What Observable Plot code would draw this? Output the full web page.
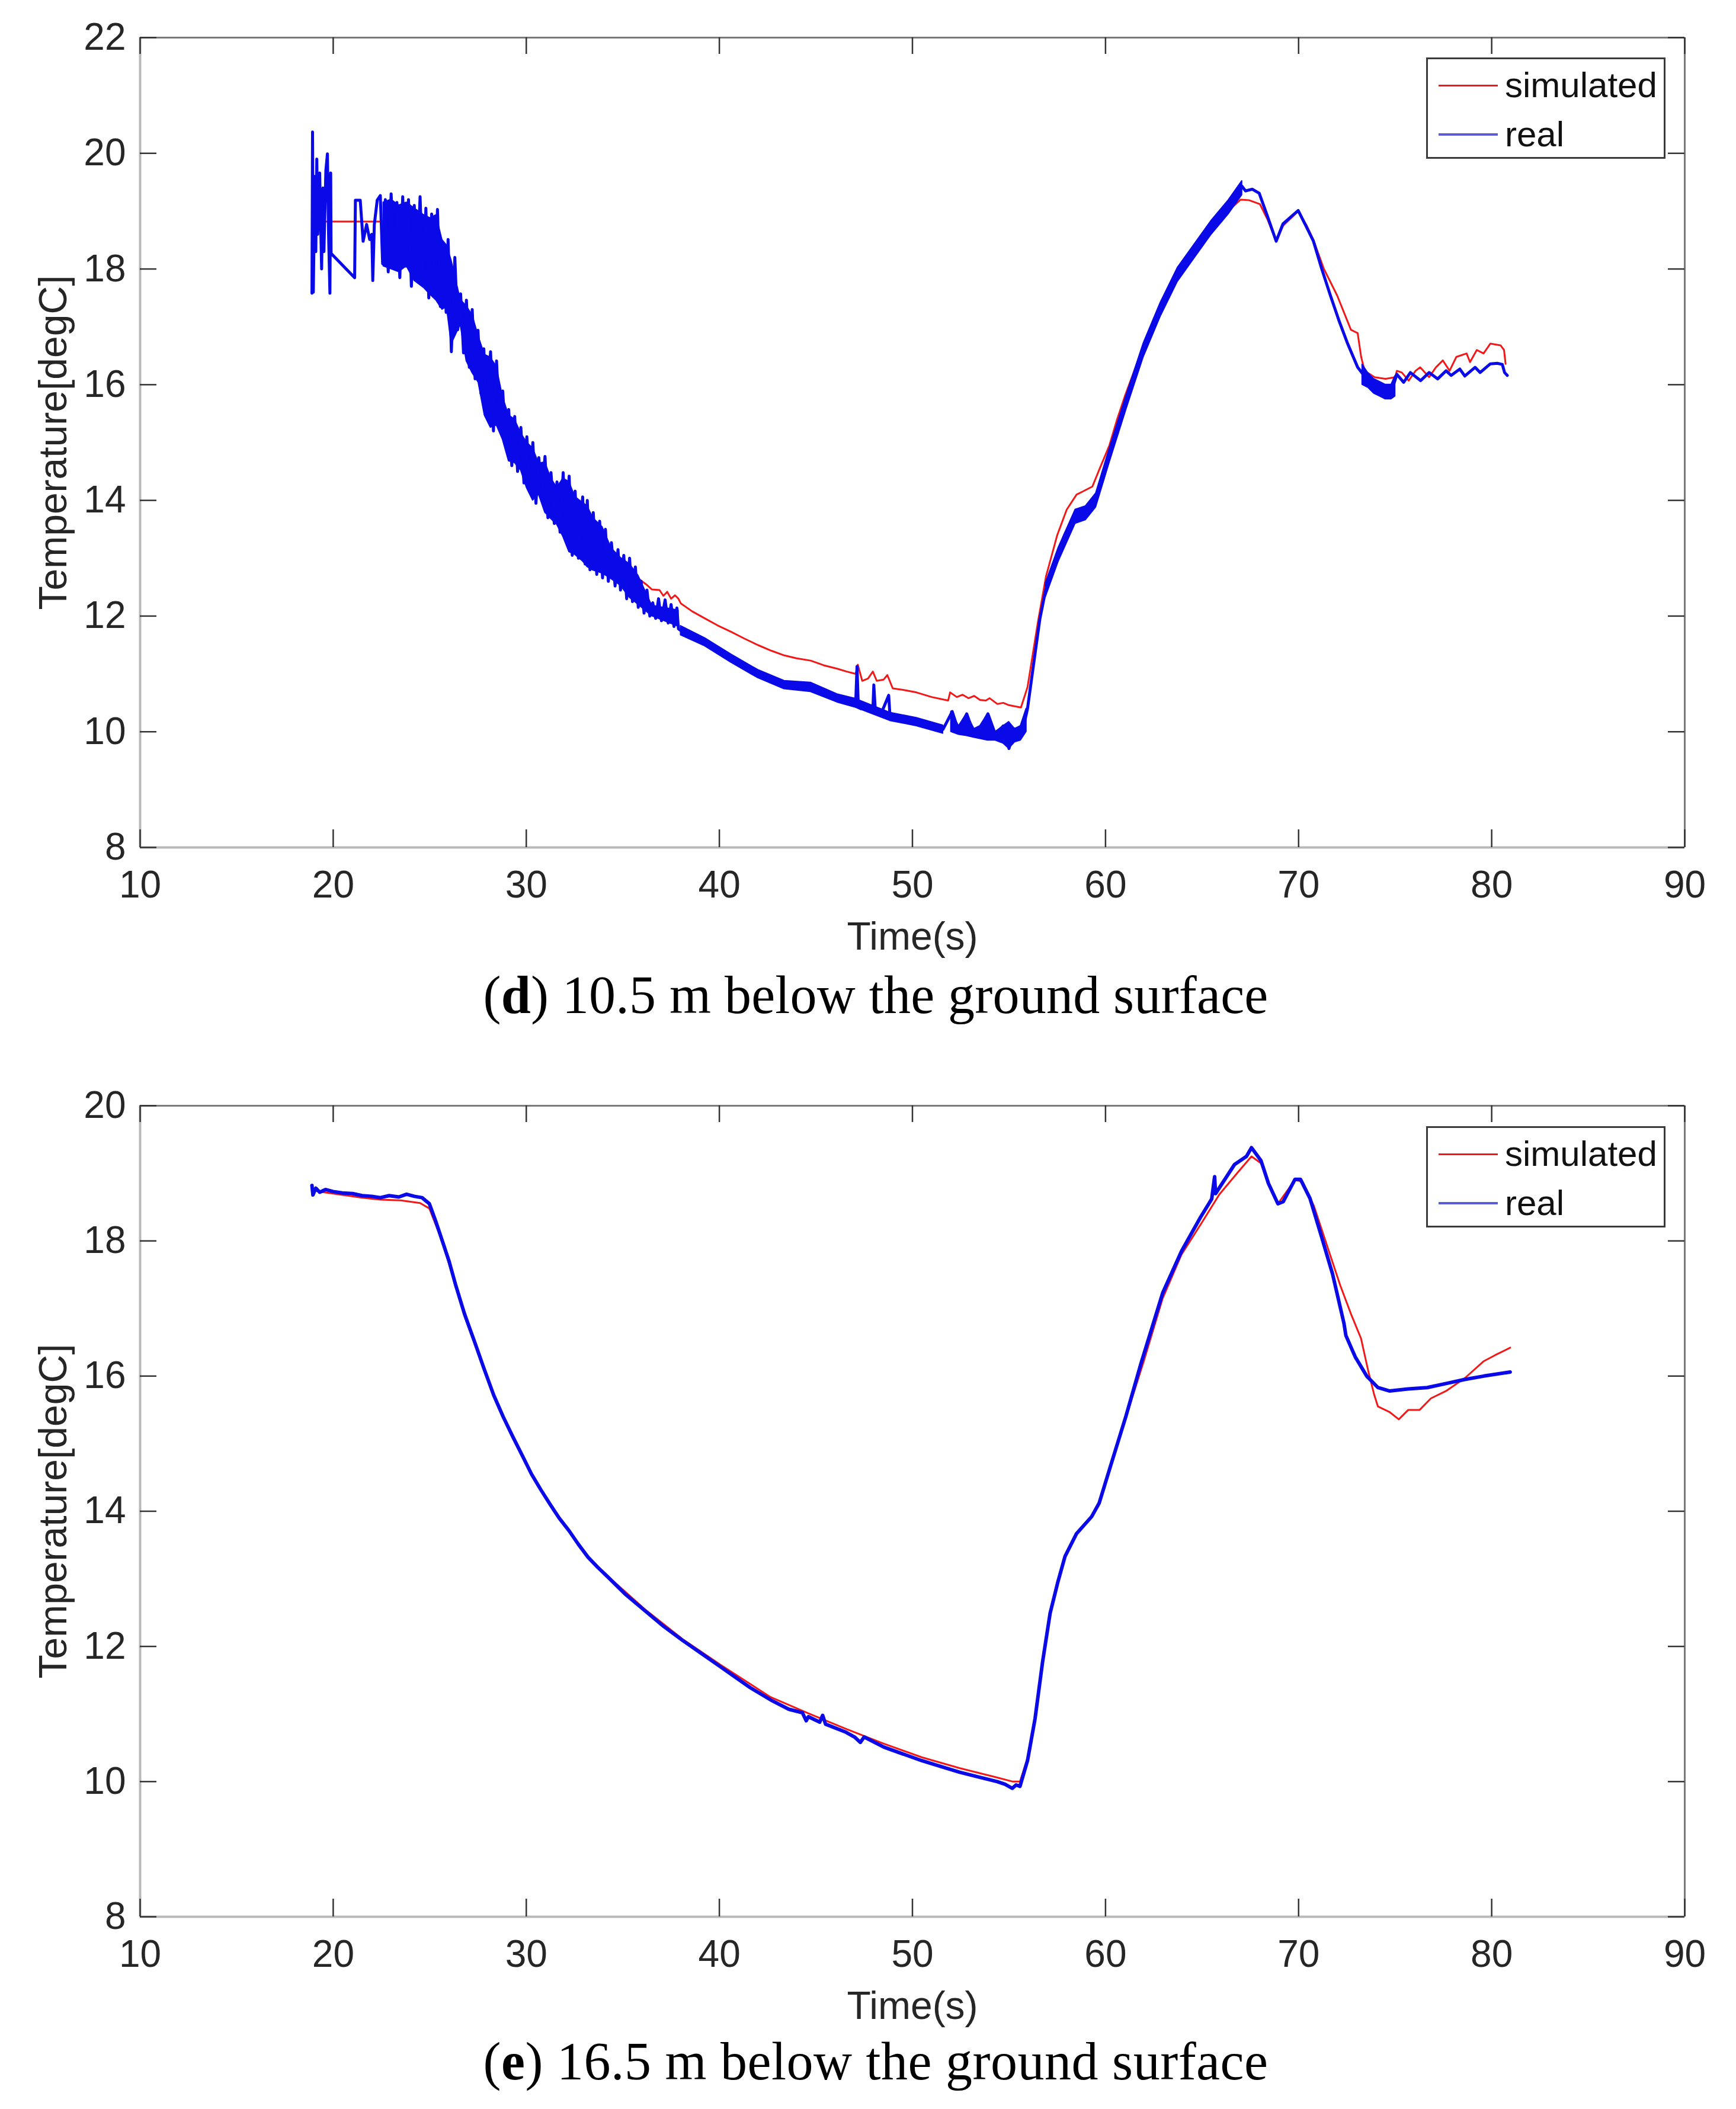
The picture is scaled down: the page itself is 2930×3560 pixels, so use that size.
<!DOCTYPE html>
<html>
<head>
<meta charset="utf-8">
<script src="https://cdn.jsdelivr.net/npm/d3@7"></script>
<script src="https://cdn.jsdelivr.net/npm/@observablehq/plot@0.6"></script>
<style>
  html, body { margin: 0; padding: 0; background: #fff; }
  #wrap { position: relative; width: 2930px; height: 3560px; background: #fff; overflow: hidden; }
  .panel { position: absolute; left: 0; }
  .cap { position: absolute; left: 13px; width: 2930px; text-align: center; white-space: nowrap;
         font-family: "Liberation Serif", "Times New Roman", serif; font-size: 90px; line-height: 90px; color: #000; }
  .cap span { display: inline-block; }
  .legend { position: absolute; left: 2407px; width: 398px; height: 165px; border: 3px solid #3a3a3a; background: #fff;
            font-family: "Liberation Sans", Arial, sans-serif; font-size: 60px; color: #111; }
  .legend .row { position: absolute; left: 0; height: 0; }
  .legend .sw { position: absolute; left: 18px; width: 100px; }
  .legend .lab { position: absolute; left: 130px; top: -36px; line-height: 72px; }
</style>
</head>
<body>
<div id="wrap">
  <div id="p1" class="panel" style="top:0px"></div>
  <div id="cap1" class="cap" style="top:1635px"><span>(<b>d</b>) 10.5 m below the ground surface</span></div>
  <div id="p2" class="panel" style="top:1803px"></div>
  <div id="cap2" class="cap" style="top:3435px"><span>(<b>e</b>) 16.5 m below the ground surface</span></div>
</div>
<script>
// ---------- axes ----------
const xDomain = [10, 90];
const xTicks = [10, 20, 30, 40, 50, 60, 70, 80, 90];
const y1Domain = [8, 22];
const y1Ticks = [8, 10, 12, 14, 16, 18, 20, 22];
const y2Domain = [8, 20];
const y2Ticks = [8, 10, 12, 14, 16, 18, 20];
const seriesNames = ["simulated", "real"];
const xLabel = "Time(s)";
const yLabel = "Temperature[degC]";

// ---------- panel (d): 10.5 m ----------
const sim1T = [19.00,22.67,23.5,24.5,25.5,26.5,27.5,28.5,29.5,30.5,31.5,32.5,33.5,34.5,35.2,35.6,35.8,36.2,36.51,36.9,37.1,37.3,37.5,37.7,37.88,38.0,38.6,39.25,39.9,40.6,41.3,41.99,42.7,43.36,44.0,44.73,45.4,46.1,46.6,47.06,47.17,47.4,47.7,47.95,48.15,48.5,48.7,48.98,49.6,50.21,51.0,51.85,51.95,52.3,52.6,52.9,53.2,53.5,53.8,54.0,54.4,54.7,55.0,55.3,55.62,55.96,56.5,56.92,57.5,57.99,58.5,58.8,59.32,59.7,60.2,60.6,61.0,61.5,62.0,62.5,63.0,63.5,64.0,64.5,65.0,65.5,66.0,66.5,67.0,67.43,68.0,68.4,68.84,69.2,69.98,70.42,70.77,71.3,72.0,72.71,73.06,73.24,73.42,73.94,74.5,75.0,75.09,75.35,75.7,76.06,76.3,76.76,77.11,77.47,77.82,78.17,78.7,78.88,79.23,79.58,79.93,80.46,80.64,80.72];
const sim1V = [18.82,18.82,18.75,18.45,18.0,17.3,16.5,15.7,15.0,14.45,14.0,13.6,13.25,12.95,12.8,12.78,12.65,12.55,12.46,12.45,12.35,12.42,12.30,12.36,12.30,12.22,12.08,11.96,11.84,11.73,11.61,11.50,11.40,11.32,11.27,11.23,11.15,11.09,11.04,11.00,11.16,10.88,10.92,11.04,10.88,10.90,10.98,10.75,10.72,10.68,10.60,10.54,10.68,10.60,10.64,10.58,10.62,10.55,10.54,10.58,10.48,10.50,10.46,10.44,10.42,10.77,11.90,12.69,13.40,13.84,14.10,14.15,14.24,14.55,14.95,15.40,15.80,16.25,16.70,17.05,17.40,17.75,18.05,18.28,18.50,18.70,18.90,19.05,19.20,19.19,19.12,18.85,18.48,18.75,19.00,18.75,18.50,18.01,17.54,16.95,16.89,16.48,16.24,16.13,16.10,16.13,16.24,16.21,16.07,16.24,16.30,16.13,16.30,16.42,16.24,16.48,16.54,16.39,16.60,16.54,16.71,16.68,16.60,16.36];

const real1T = [18.90,18.93,18.97,19.05,19.10,19.15,19.20,19.30,19.40,19.47,19.52,19.62,19.70,19.76,19.83,19.87,19.89,21.11,21.15,21.40,21.55,21.73,21.89,22.00,22.05,22.13,22.28,22.44,22.56,
 22.70,22.85,23.00,23.15,23.30,23.45,23.60,23.75,23.90,24.05,24.20,24.35,24.50,24.65,24.80,24.95,25.10,25.25,25.40,25.55,25.70,25.85,25.95,26.12,26.30,26.45,26.60,26.75,26.90,27.05,27.20,27.35,27.50,27.65,27.80,27.95,28.15,28.30,28.46,28.62,28.78,28.95,29.09,29.25,29.40,29.55,29.72,29.88,30.03,30.20,30.34,30.50,30.65,30.80,30.97,31.12,31.28,31.45,31.59,31.75,31.91,32.05,32.22,32.38,32.53,32.70,32.92,33.05,33.16,33.30,33.47,33.65,33.80,33.95,34.10,34.25,34.41,34.60,34.75,34.88,35.05,35.20,35.35,35.50,35.65,35.80,35.95,36.10,36.25,36.40,36.55,36.70,36.85,37.00,37.19,37.35,37.50,37.65,37.80,37.88,
 38.00,38.6,39.25,39.9,40.6,41.3,42.0,42.7,43.36,44.0,44.73,45.4,46.10,46.6,47.06,47.13,47.20,47.33,47.7,47.95,48.00,48.08,48.4,48.77,48.84,49.5,50.21,50.9,51.58,52.06,52.4,52.81,53.2,53.5,53.91,54.3,54.7,55.0,55.3,55.69,55.96,56.33,56.6,56.9,57.2,57.56,57.88,58.2,58.44,58.7,58.97,59.2,59.5,59.85,60.2,60.6,61.09,61.5,61.97,62.4,62.85,63.3,63.73,64.2,64.61,65.05,65.49,65.9,66.37,66.75,67.07,67.25,67.6,67.96,68.4,68.84,69.19,69.6,69.98,70.42,70.77,71.2,71.65,72.1,72.54,73.06,73.59,74.3,74.82,75.09,75.44,75.79,76.32,76.76,77.20,77.64,77.90,78.35,78.61,79.14,79.40,79.93,80.29,80.55,80.67,80.81];
const real1V = [17.58,20.37,17.60,19.60,18.30,19.90,18.60,19.66,18.00,19.40,18.30,19.70,19.99,18.60,17.58,19.66,18.27,17.85,19.19,19.19,18.48,18.77,18.51,18.60,17.80,18.77,19.19,19.27,18.09,
 19.20,17.95,19.30,18.10,19.15,17.85,19.25,18.05,19.20,17.70,19.10,18.00,19.25,17.80,19.05,17.50,18.95,17.55,19.03,17.35,18.40,17.25,18.51,16.57,18.20,16.95,17.57,16.55,17.46,16.30,17.30,16.10,16.94,15.85,16.62,15.45,16.57,15.20,16.41,15.25,15.89,14.95,15.57,14.60,15.45,14.50,15.26,14.30,15.10,14.15,15.00,13.95,14.74,14.05,14.76,13.70,14.48,13.60,14.32,13.45,14.48,13.30,14.42,13.05,14.16,13.00,14.06,12.90,14.00,12.80,13.79,12.72,13.64,12.66,13.50,12.60,13.27,12.52,13.15,12.45,13.05,12.30,13.00,12.25,12.85,12.15,12.60,12.05,12.45,12.00,12.23,11.96,12.30,11.92,12.28,11.88,12.20,11.82,12.14,11.78,
 11.75,11.66,11.55,11.42,11.27,11.13,11.00,10.90,10.81,10.79,10.77,10.66,10.58,10.53,10.49,11.13,10.42,10.40,10.44,10.38,10.81,10.36,10.33,10.63,10.26,10.22,10.17,10.10,10.04,10.35,10.00,10.31,9.95,10.05,10.31,9.95,10.10,9.71,10.05,9.99,10.40,11.30,11.95,12.45,12.75,13.06,13.40,13.60,13.71,13.80,13.77,13.85,14.00,14.35,14.77,15.25,15.71,16.15,16.60,16.95,17.30,17.62,17.90,18.12,18.31,18.52,18.72,18.88,19.07,19.25,19.43,19.35,19.38,19.31,18.90,18.48,18.78,18.90,19.01,18.72,18.48,18.00,17.54,17.10,16.71,16.30,16.07,15.95,15.89,16.18,16.04,16.21,16.07,16.21,16.10,16.24,16.16,16.27,16.15,16.30,16.21,16.36,16.37,16.35,16.21,16.16];

// dense core of the noisy real series (panel d), by segment
const band1Seg = ["a","a","a","a","a","a","a","a","a","a","a","a","a","a","a","a","a","a","a","a","a","a","a","a","a","a","a","a","a","a","a","a","a","a","a","a","a","a","a","a","a",
                  "d","d","d","d","d","d","d","d","d","d","d",
                  "b","b","b","b","b","b","b","b","b","b","b","b",
                  "e","e","e","e","e","e","e","e","e","e","e","e","e","e",
                  "c","c","c","c","c","c","c"];
const band1T  = [22.60,23.00,23.40,23.80,24.20,24.71,25.02,25.33,25.65,25.88,26.12,26.59,26.90,27.21,27.52,27.84,28.15,28.46,28.78,29.09,29.40,29.72,30.03,30.34,30.65,30.97,31.28,31.59,31.91,32.22,32.53,32.92,33.16,33.47,33.94,34.41,34.88,35.35,35.80,36.51,37.88,
                 38.0,39.25,40.6,42.0,43.36,44.73,46.1,47.06,48.84,50.21,51.58,
                 52.0,52.4,52.8,53.2,53.5,53.9,54.3,54.7,55.0,55.3,55.6,55.9,
                 56.9,57.56,58.44,58.97,59.5,60.2,61.09,61.97,62.85,63.73,64.61,65.49,66.37,67.07,
                 73.3,73.6,73.9,74.2,74.5,74.8,75.0];
const band1Lo = [18.05,18.00,17.95,18.05,17.80,17.67,17.56,17.46,17.30,17.35,16.70,17.04,16.41,16.20,16.04,15.47,15.26,15.30,15.05,14.68,14.65,14.52,14.21,14.00,14.10,13.79,13.68,13.58,13.37,13.11,13.06,12.95,12.85,12.79,12.74,12.64,12.53,12.32,12.20,12.00,11.82,
                 11.67,11.48,11.20,10.93,10.74,10.69,10.51,10.42,10.19,10.10,9.97,
                 10.00,9.95,9.93,9.90,9.88,9.85,9.85,9.80,9.71,9.82,9.85,10.00,
                 12.33,12.94,13.60,13.66,13.88,14.65,15.59,16.48,17.18,17.78,18.19,18.60,18.95,19.28,
                 16.00,15.95,15.85,15.80,15.75,15.75,15.80];
const band1Hi = [19.15,19.20,19.10,19.15,19.05,18.93,18.88,18.93,18.50,18.41,18.15,17.47,17.36,17.20,16.84,16.52,16.47,16.31,15.79,15.47,15.40,15.16,15.00,14.90,14.64,14.66,14.38,14.22,14.38,14.32,14.06,13.96,13.90,13.69,13.54,13.17,13.01,12.90,12.70,12.18,12.10,
                 11.83,11.62,11.34,11.07,10.88,10.85,10.65,10.57,10.33,10.24,10.11,
                 10.35,10.10,10.31,10.05,10.10,10.31,10.00,10.10,10.17,10.05,10.10,10.40,
                 12.57,13.18,13.84,13.90,14.12,14.89,15.83,16.72,17.42,18.02,18.43,18.84,19.19,19.52,
                 16.35,16.20,16.10,16.05,16.00,16.00,16.15];

// ---------- panel (e): 16.5 m ----------
const sim2T = [18.91,19.5,20.48,21.5,22.44,23.5,24.5,24.98,25.57,26.35,27.33,28.31,29.29,30.27,31.24,32.22,33.2,34.18,36.14,38.09,40.05,42.65,44.61,46.56,48.52,50.48,52.43,54.39,55.2,55.57,55.96,56.35,56.74,57.13,57.52,57.9,58.5,59.28,59.67,60.26,61.05,61.98,62.96,63.94,64.92,65.9,66.87,67.56,68.05,68.44,68.93,69.81,70.2,70.79,71.37,72.16,72.74,73.23,73.62,73.92,74.11,74.7,75.19,75.68,76.27,76.85,77.64,78.61,79.59,80.18,80.96];
const sim2V = [18.75,18.72,18.68,18.64,18.61,18.60,18.56,18.48,18.05,17.34,16.50,15.72,15.11,14.55,14.10,13.71,13.33,13.05,12.55,12.11,11.73,11.25,11.01,10.78,10.56,10.36,10.20,10.06,10.00,10.00,10.35,10.95,11.78,12.50,12.95,13.34,13.68,13.93,14.13,14.67,15.38,16.22,17.15,17.80,18.24,18.69,19.02,19.25,19.15,18.85,18.55,18.90,18.88,18.52,18.02,17.34,16.90,16.56,16.06,15.72,15.55,15.47,15.36,15.50,15.50,15.67,15.78,15.97,16.22,16.31,16.42];

const real2T = [18.90,18.95,19.1,19.3,19.6,20.0,20.48,21.0,21.5,22.0,22.44,22.9,23.4,23.8,24.2,24.6,24.98,25.3,25.57,26.0,26.35,26.8,27.33,27.8,28.31,28.8,29.29,29.8,30.27,30.75,31.24,31.7,32.22,32.7,33.2,33.7,34.18,35.1,36.14,37.1,38.09,39.1,40.05,40.8,41.6,42.65,43.6,44.3,44.5,44.61,45.2,45.35,45.5,46.56,47.0,47.3,47.5,48.52,49.5,50.48,51.5,52.43,53.4,54.39,54.8,55.17,55.37,55.57,55.96,56.35,56.74,57.13,57.52,57.9,58.5,59.28,59.67,60.26,61.05,61.83,62.96,63.94,64.92,65.5,65.65,65.7,66.68,67.3,67.56,68.05,68.44,68.93,69.2,69.81,70.1,70.59,71.18,71.76,72.35,72.45,72.94,73.53,74.11,74.7,75.68,76.66,77.64,78.61,79.59,80.96];
const real2V = [18.82,18.68,18.78,18.72,18.76,18.73,18.71,18.70,18.67,18.66,18.64,18.67,18.65,18.69,18.66,18.64,18.55,18.30,18.07,17.70,17.34,16.92,16.50,16.12,15.72,15.40,15.11,14.82,14.55,14.32,14.10,13.90,13.71,13.51,13.32,13.17,13.04,12.78,12.53,12.30,12.09,11.89,11.70,11.55,11.39,11.21,11.07,11.02,10.90,10.96,10.88,10.98,10.85,10.73,10.66,10.58,10.66,10.51,10.41,10.31,10.22,10.14,10.07,10.00,9.96,9.90,9.95,9.93,10.31,10.93,11.77,12.49,12.94,13.33,13.67,13.92,14.12,14.67,15.40,16.18,17.23,17.85,18.35,18.62,18.95,18.70,19.13,19.25,19.38,19.19,18.85,18.55,18.58,18.91,18.91,18.63,18.07,17.51,16.78,16.60,16.28,16.00,15.83,15.78,15.81,15.83,15.89,15.95,16.00,16.06];

// ---------- build ----------
const RED = "#f01818";
const BLUE = "#0a0ae8";
const W = 2930, ML = 236, MR = 87, MT = 63, MB = 210;
const FW = W - ML - MR;

const rows = (t, v) => t.map((d, i) => ({t: d, v: v[i]}));

function panel({simT, simV, realT, realV, band, yDomain, yTicks, frameH, realWidth}) {
  const sim = rows(simT, simV);
  const real = rows(realT, realV);
  const marks = [
    Plot.line(sim, {x: "t", y: "v", stroke: RED, strokeWidth: 3}),
  ];
  if (band) marks.push(Plot.areaY(band, {x: "t", y1: "lo", y2: "hi", z: "seg", fill: BLUE, stroke: BLUE, strokeWidth: 2}));
  marks.push(Plot.line(real, {x: "t", y: "v", stroke: BLUE, strokeWidth: realWidth}));
  marks.push(
    // box
    Plot.ruleX([xDomain[0]], {stroke: "#b9b9b9", strokeWidth: 4}),
    Plot.ruleY([yDomain[0]], {stroke: "#b9b9b9", strokeWidth: 4}),
    Plot.ruleX([xDomain[1]], {stroke: "#7a7a7a", strokeWidth: 3}),
    Plot.ruleY([yDomain[1]], {stroke: "#7a7a7a", strokeWidth: 3}),
    // inward ticks on all four sides
    Plot.ruleX(xTicks, {insetTop: frameH - 30, stroke: "#333", strokeWidth: 2.5}),
    Plot.ruleX(xTicks, {insetBottom: frameH - 28, stroke: "#333", strokeWidth: 2.5}),
    Plot.ruleY(yTicks, {insetRight: FW - 28, stroke: "#333", strokeWidth: 2.5}),
    Plot.ruleY(yTicks, {insetLeft: FW - 28, stroke: "#333", strokeWidth: 2.5}),
    Plot.axisX({ticks: xTicks, tickSize: 0, tickPadding: 39, fontSize: 64, fill: "#262626", label: null}),
    Plot.axisY({ticks: yTicks, tickSize: 0, tickPadding: 24, fontSize: 64, fill: "#262626", label: null}),
    Plot.text([xLabel], {text: d => d, frameAnchor: "bottom", dy: 172, fontSize: 66, fill: "#262626"}),
    Plot.text([yLabel], {text: d => d, frameAnchor: "left", textAnchor: "middle", dx: -146, rotate: -90, fontSize: 66, fill: "#262626"})
  );
  return Plot.plot({
    width: W,
    height: MT + frameH + MB,
    marginLeft: ML, marginRight: MR, marginTop: MT, marginBottom: MB,
    x: {domain: xDomain},
    y: {domain: yDomain},
    style: {fontFamily: "'Liberation Sans', Arial, Helvetica, sans-serif", background: "transparent", overflow: "visible"},
    marks
  });
}

const band1 = band1T.map((t, i) => ({t, lo: band1Lo[i], hi: band1Hi[i], seg: band1Seg[i]}));

document.getElementById("p1").appendChild(panel({simT: sim1T, simV: sim1V, realT: real1T, realV: real1V, band: band1,
  yDomain: y1Domain, yTicks: y1Ticks, frameH: 1367, realWidth: 5}));
document.getElementById("p2").appendChild(panel({simT: sim2T, simV: sim2V, realT: real2T, realV: real2V, band: null,
  yDomain: y2Domain, yTicks: y2Ticks, frameH: 1369, realWidth: 6}));

// legends (HTML, placed inside each frame's top-right corner)
function legend(top) {
  const box = document.createElement("div");
  box.className = "legend";
  box.style.top = top + "px";
  const colors = [RED, "#5b5bd6"];
  const widths = [3, 4];
  const ys = [47, 130];
  seriesNames.forEach((name, i) => {
    const row = document.createElement("div");
    row.className = "row";
    row.style.top = (ys[i] - 3) + "px";
    const sw = document.createElement("div");
    sw.className = "sw";
    sw.style.borderTop = widths[i] + "px solid " + colors[i];
    sw.style.top = (-widths[i] / 2) + "px";
    const lab = document.createElement("div");
    lab.className = "lab";
    lab.textContent = name;
    row.appendChild(sw); row.appendChild(lab);
    box.appendChild(row);
  });
  document.getElementById("wrap").appendChild(box);
}
legend(97);
legend(1803 + 98);

// fit caption widths to the reference (~1325 px)
for (const id of ["cap1", "cap2"]) {
  const span = document.querySelector("#" + id + " span");
  const w = span.getBoundingClientRect().width;
  const n = span.textContent.length;
  span.style.letterSpacing = ((1325 - w) / n) + "px";
}
</script>
</body>
</html>
